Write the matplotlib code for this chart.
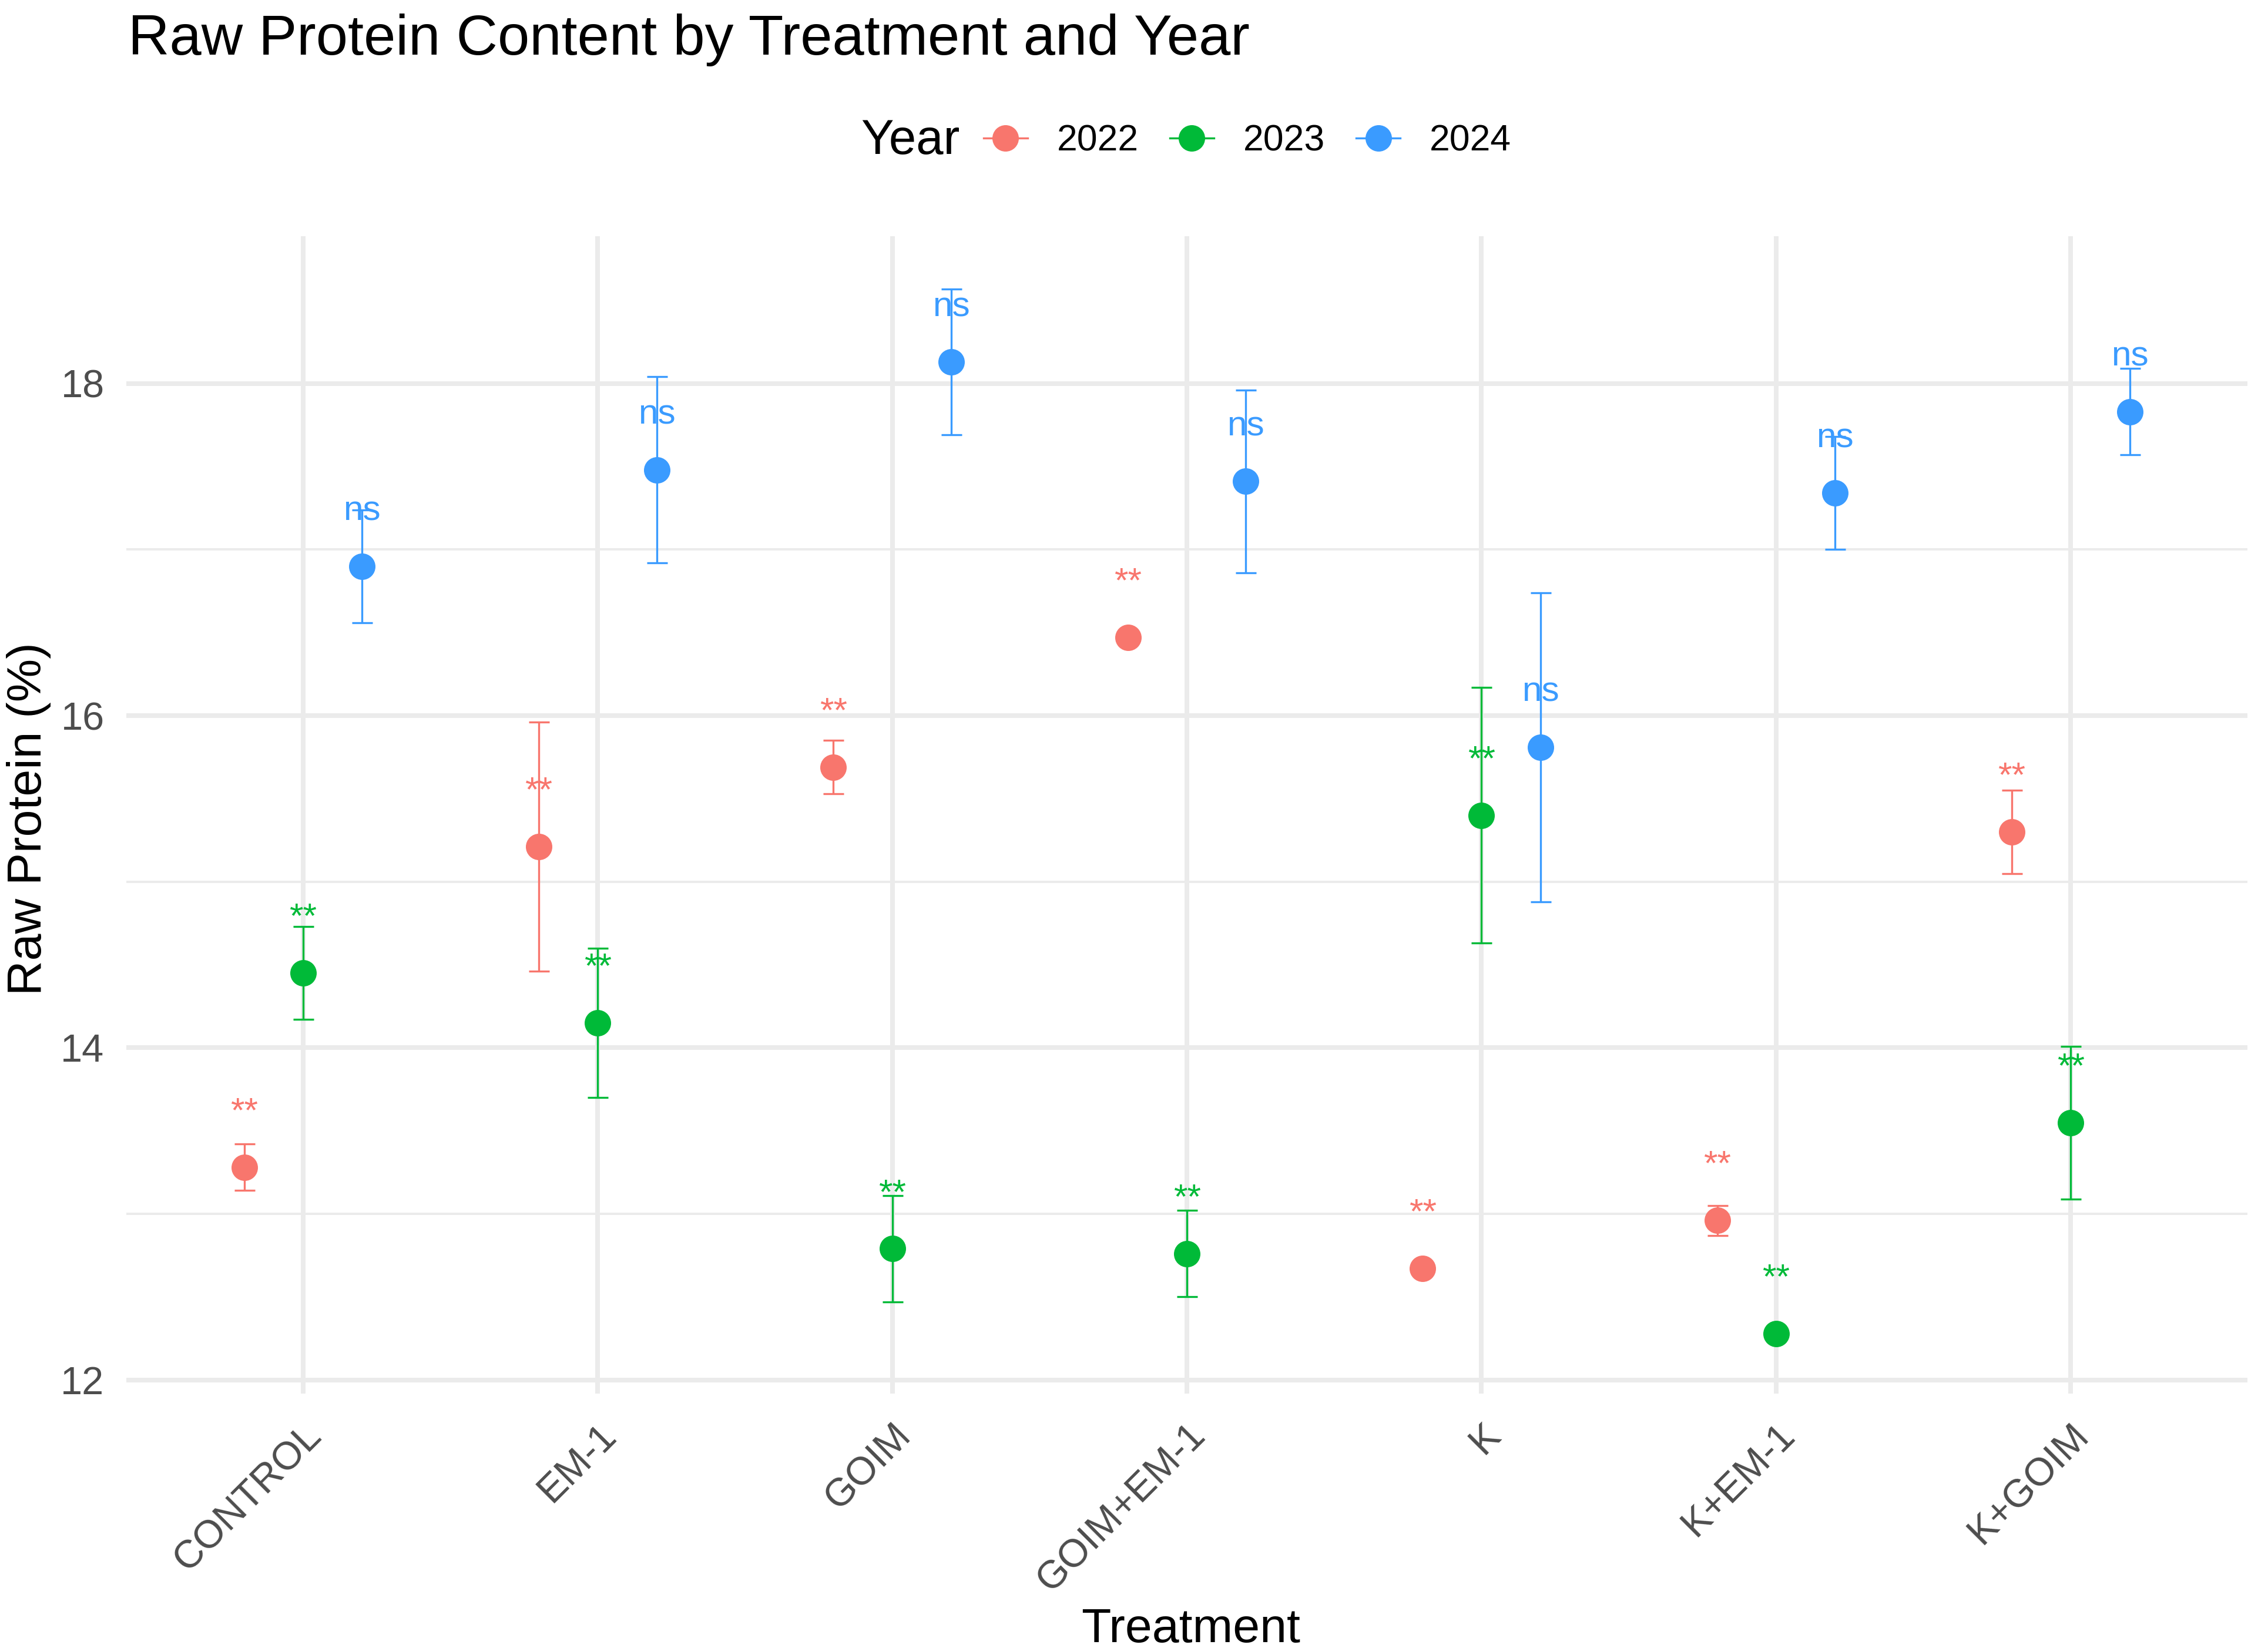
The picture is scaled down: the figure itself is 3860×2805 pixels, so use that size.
import matplotlib.pyplot as plt
from matplotlib.lines import Line2D
import numpy as np

plt.rcParams["font.family"] = ["Liberation Sans", "DejaVu Sans"]

# Treatments on the x axis
treatments = ["CONTROL", "EM-1", "GOIM", "GOIM+EM-1", "K", "K+EM-1", "K+GOIM"]
years = ["2022", "2023", "2024"]

# Mean raw protein (%) and error half-widths per year
mean_2022 = [13.28, 15.21, 15.69, 16.47, 12.67, 12.96, 15.30]
err_2022 = [0.14, 0.75, 0.16, 0.02, 0.02, 0.09, 0.25]
mean_2023 = [14.45, 14.15, 12.79, 12.76, 15.40, 12.28, 13.55]
err_2023 = [0.28, 0.45, 0.32, 0.26, 0.77, 0.02, 0.46]
mean_2024 = [16.90, 17.48, 18.13, 17.41, 15.81, 17.34, 17.83]
err_2024 = [0.34, 0.56, 0.44, 0.55, 0.93, 0.34, 0.26]

# Significance labels
sig_2022 = ["**"] * 7
sig_2023 = ["**"] * 7
sig_2024 = ["ns"] * 7

means = [mean_2022, mean_2023, mean_2024]
errs = [err_2022, err_2023, err_2024]
sigs = [sig_2022, sig_2023, sig_2024]
colors = ["#F8766D", "#00BA38", "#3A9BFF"]
offsets = [-0.2, 0.0, 0.2]

fig = plt.figure(figsize=(12.87, 9.35), dpi=300)
ax = fig.add_axes([0.0557, 0.1544, 0.9350, 0.7023])

x = np.arange(len(treatments))
for m, e, s, c, off in zip(means, errs, sigs, colors, offsets):
    ax.errorbar(x + off, m, yerr=e, fmt="o", color=c, ecolor=c, markersize=9.8,
                elinewidth=0.8, capsize=4.2, capthick=0.8, zorder=3)
    for xi, mi, lab in zip(x + off, m, s):
        ax.text(xi, mi + 0.33, lab, color=c, fontsize=14.5, ha="center", va="center", zorder=4)

ax.set_xlim(-0.6, 6.6)
ax.set_ylim(11.918, 18.887)
ax.set_xticks(x)
ax.set_xticklabels(treatments, rotation=45, ha="right", va="top", rotation_mode="anchor")
ax.set_yticks([12, 14, 16, 18])
ax.set_yticks([13, 15, 17], minor=True)
ax.tick_params(axis="both", which="both", length=0, labelsize=16, labelcolor="#4D4D4D")
ax.tick_params(axis="y", pad=9)
ax.tick_params(axis="x", pad=9.6)
ax.grid(which="major", color="#EBEBEB", linewidth=1.9)
ax.grid(which="minor", axis="y", color="#EBEBEB", linewidth=0.95)
ax.set_axisbelow(True)
for sp in ax.spines.values():
    sp.set_visible(False)

fig.text(0.5250, 0.0035, "Treatment", fontsize=19.8, ha="center", va="baseline")
fig.text(0.0128, 0.503, "Raw Protein (%)", fontsize=19.8, ha="center", va="center", rotation=90)
fig.text(0.0564, 0.967, "Raw Protein Content by Treatment and Year", fontsize=23.4,
         ha="left", va="baseline")

# Legend: title to the left of the keys
fig.text(0.3795, 0.9144, "Year", fontsize=20, ha="left", va="center")
handles = [Line2D([], [], color=c, marker="o", markersize=9.8, linewidth=0.8) for c in colors]
fig.legend(handles, years, loc="center left", bbox_to_anchor=(0.4335, 0.9144), ncol=3,
           frameon=False, fontsize=15, handlelength=1.2, handletextpad=0.8,
           columnspacing=0.85, borderpad=0, borderaxespad=0)

fig.savefig("out.png", dpi=300, facecolor="white")
